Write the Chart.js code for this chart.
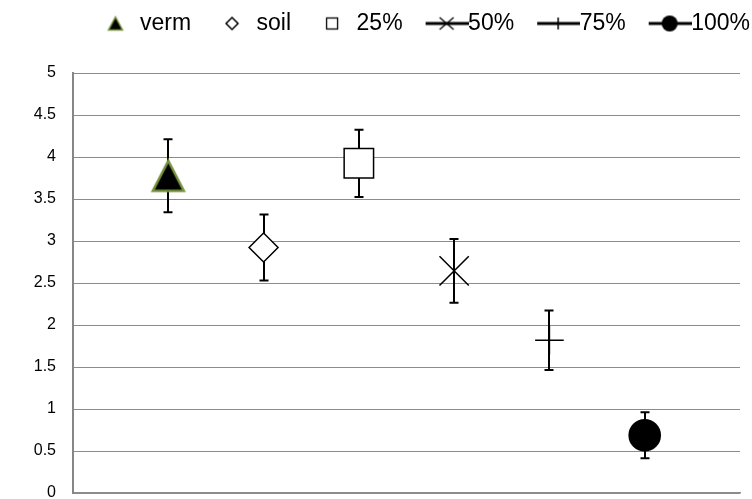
<!DOCTYPE html>
<html><head><meta charset="utf-8">
<script src="https://cdn.jsdelivr.net/npm/chart.js@4/dist/chart.umd.min.js"></script>
<style>html,body{margin:0;padding:0;background:#fff}#wrap{width:752px;height:499px}</style>
</head><body><div id="wrap"><canvas id="c" width="752" height="499"></canvas></div>
<script>
// ---- data ----
const categories = ['verm', 'soil', '25%', '50%', '75%', '100%'];
const xPositions = [1, 2, 3, 4, 5, 6];
const means = [3.776, 2.923, 3.925, 2.645, 1.818, 0.687];
const errors = [0.435, 0.393, 0.40, 0.38, 0.355, 0.274];
const yTickMin = 0, yTickMax = 5, yTickStep = 0.5;

// ---- styles ----
const GREEN = '#76923C';
function mk(w, h, fn) { const c = document.createElement('canvas'); c.width = w; c.height = h; fn(c.getContext('2d')); return c; }

// marker image for the triangle (bbox-centred like the original)
const triMarker = mk(37, 35, g => {
  g.beginPath(); g.moveTo(18.5, 2.5); g.lineTo(34, 32.5); g.lineTo(3, 32.5); g.closePath();
  g.fillStyle = '#000'; g.fill(); g.lineWidth = 2.5; g.strokeStyle = GREEN; g.lineJoin = 'miter'; g.stroke();
});

// legend icons (68 x 24, centre 34)
const LW = 68, LH = 24, MX = 43;
function lineIcon(drawMarker) {
  return mk(LW, LH, g => {
    g.strokeStyle = '#000'; g.lineWidth = 3; g.beginPath(); g.moveTo(25, 12); g.lineTo(68, 12); g.stroke();
    drawMarker(g, 46, 12);
  });
}
const legendIcons = [
  mk(LW, LH, g => { g.beginPath(); g.moveTo(MX, 5.5); g.lineTo(MX + 7, 18.5); g.lineTo(MX - 7, 18.5); g.closePath(); g.fillStyle = '#000'; g.fill(); g.lineWidth = 1.5; g.strokeStyle = GREEN; g.stroke(); }),
  mk(LW, LH, g => { g.beginPath(); g.moveTo(MX, 6); g.lineTo(MX + 6, 12); g.lineTo(MX, 18); g.lineTo(MX - 6, 12); g.closePath(); g.lineWidth = 1.5; g.strokeStyle = '#000'; g.stroke(); }),
  mk(LW, LH, g => { g.lineWidth = 1.3; g.strokeStyle = '#000'; g.strokeRect(MX - 5.5, 6.5, 11, 11); }),
  lineIcon((g, x, y) => { g.lineWidth = 1.3; g.beginPath(); g.moveTo(x - 7, y - 6); g.lineTo(x + 7, y + 6); g.moveTo(x + 7, y - 6); g.lineTo(x - 7, y + 6); g.stroke(); }),
  lineIcon((g, x, y) => { g.lineWidth = 1.5; g.beginPath(); g.moveTo(x, y - 6); g.lineTo(x, y + 6); g.stroke(); }),
  lineIcon((g, x, y) => { g.beginPath(); g.arc(x, y, 8, 0, Math.PI * 2); g.fillStyle = '#000'; g.fill(); })
];

const markerStyles = [
  { pointStyle: triMarker, pointRadius: 16, backgroundColor: '#000', borderColor: GREEN, borderWidth: 2 },
  { pointStyle: 'rectRot', pointRadius: 14.5, backgroundColor: '#fff', borderColor: '#000', borderWidth: 1.5 },
  { pointStyle: 'rect', pointRadius: 20.8, backgroundColor: '#fff', borderColor: '#000', borderWidth: 1.5 },
  { pointStyle: 'crossRot', pointRadius: 20.7, backgroundColor: '#000', borderColor: '#000', borderWidth: 1.5 },
  { pointStyle: 'cross', pointRadius: 14.3, backgroundColor: '#000', borderColor: '#000', borderWidth: 1.5 },
  { pointStyle: 'circle', pointRadius: 16.3, backgroundColor: '#000', borderColor: '#000', borderWidth: 0 }
];

const datasets = categories.map((name, i) => Object.assign({
  label: name,
  data: [{ x: xPositions[i], y: means[i] }],
  pointHoverRadius: markerStyles[i].pointRadius,
  showLine: false
}, markerStyles[i]));

const errorBars = {
  id: 'errorBars',
  beforeDatasetsDraw(chart) {
    const { ctx, scales: { x, y } } = chart;
    ctx.save();
    ctx.strokeStyle = '#000'; ctx.lineWidth = 2;
    for (let i = 0; i < means.length; i++) {
      const px = Math.round(x.getPixelForValue(xPositions[i]));
      const t = y.getPixelForValue(means[i] + errors[i]);
      const b = y.getPixelForValue(means[i] - errors[i]);
      ctx.beginPath();
      ctx.moveTo(px, t); ctx.lineTo(px, b);
      ctx.moveTo(px - 4.5, t); ctx.lineTo(px + 4.5, t);
      ctx.moveTo(px - 4.5, b); ctx.lineTo(px + 4.5, b);
      ctx.stroke();
    }
    ctx.restore();
  }
};

const legendLayout = {
  id: 'legendLayout',
  afterInit(chart) {
    const lg = chart.legend;
    if (lg) { const f = lg.fit; lg.fit = function () { f.call(this); this.height = 73; }; }
  },
  afterLayout(chart) {
    if (chart.legend) { chart.legend.right = chart.width + 8; chart.legend.top = 2; }
  }
};

new Chart(document.getElementById('c'), {
  type: 'scatter',
  data: { datasets },
  options: {
    responsive: false,
    animation: false,
    devicePixelRatio: 1,
    layout: { autoPadding: false, padding: { left: 0, right: 12, top: 0, bottom: 0 } },
    plugins: {
      tooltip: { enabled: false },
      legend: {
        display: true,
        position: 'top',
        align: 'end',
        labels: {
          usePointStyle: true,
          pointStyleWidth: 44,
          padding: 10,
          color: '#000',
          font: { family: '"Liberation Sans", Arial, sans-serif', size: 23 },
          generateLabels: () => categories.map((name, i) => ({
            text: name, pointStyle: legendIcons[i], fillStyle: '#000', strokeStyle: '#000',
            lineWidth: 0, hidden: false, datasetIndex: i, fontColor: '#000'
          }))
        }
      }
    },
    scales: {
      x: {
        type: 'linear', min: 0, max: 7,
        ticks: { display: false },
        grid: { display: false, drawTicks: false },
        border: { display: true, color: '#8c8c8c', width: 1.5 },
        afterFit(s) { s.height = 6; }
      },
      y: {
        min: yTickMin, max: yTickMax,
        ticks: { stepSize: yTickStep, color: '#000', padding: 17,
          callback: v => String(Math.round(v * 10) / 10),
          font: { family: '"Liberation Sans", Arial, sans-serif', size: 16 } },
        grid: { color: '#8c8c8c', lineWidth: 1, drawTicks: false },
        border: { display: true, color: '#868686', width: 2 },
        afterFit(s) { s.width = 73; s.paddingTop = 0; s.paddingBottom = 0; }
      }
    }
  },
  plugins: [errorBars, legendLayout]
});
</script>
</body></html>
